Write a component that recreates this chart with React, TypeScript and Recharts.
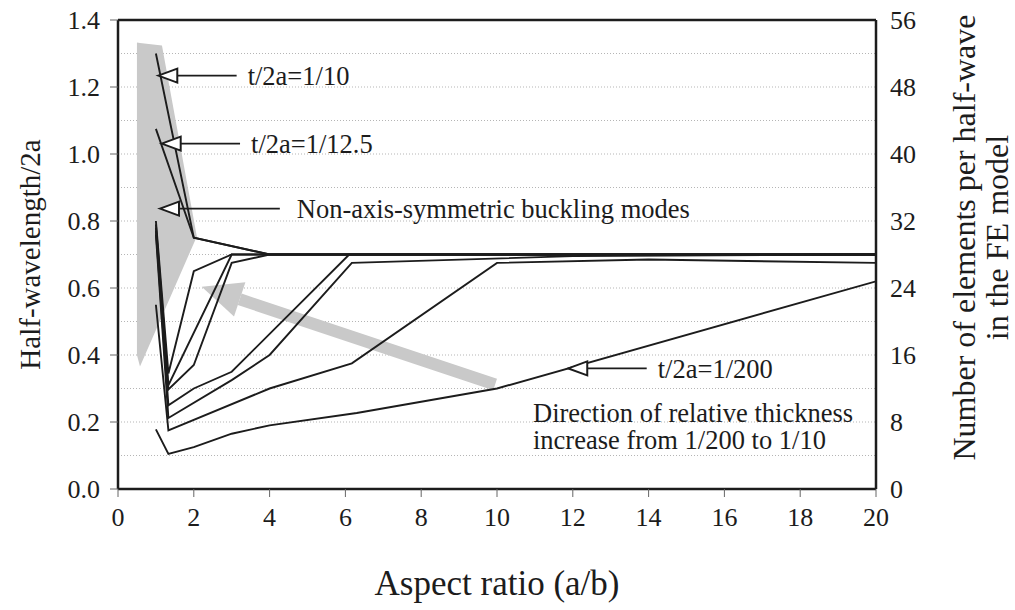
import React from 'react';
import {
  ComposedChart,
  Line,
  Area,
  XAxis,
  YAxis,
  CartesianGrid,
  ReferenceLine,
  ReferenceDot,
} from 'recharts';

const FONT = 'Liberation Serif';
const INK = '#1c1c1c';
const SHADE = '#c9c9c9';

const X_TICKS = [0, 2, 4, 6, 8, 10, 12, 14, 16, 18, 20];
const Y_TICKS = [0, 0.2, 0.4, 0.6, 0.8, 1.0, 1.2, 1.4];
const Y_MINOR = [0.1, 0.2, 0.3, 0.4, 0.5, 0.6, 0.7, 0.8, 0.9, 1.0, 1.1, 1.2, 1.3];
const FE_TICKS = [0, 8, 16, 24, 32, 40, 48, 56];

// half-wavelength/2a against aspect ratio, one curve per relative thickness t/2a
const T10 = [[1, 1.3], [2, 0.75], [4, 0.7], [20, 0.7]];
const T12_5 = [[1, 1.075], [2, 0.75], [4, 0.7], [20, 0.7]];
const T3 = [[1, 0.8], [1.33, 0.345], [2, 0.65], [3, 0.7], [20, 0.7]];
const T4 = [[1, 0.79], [1.33, 0.31], [3, 0.7], [20, 0.7]];
const T5 = [[1, 0.78], [1.33, 0.297], [2, 0.37], [3, 0.675], [4, 0.7], [20, 0.7]];
const T6 = [[1, 0.77], [1.33, 0.25], [2, 0.3], [3, 0.35], [6.1, 0.7], [20, 0.7]];
const T7 = [[1, 0.76], [1.33, 0.212], [3, 0.325], [4, 0.4], [6.17, 0.675], [12, 0.695], [20, 0.7]];
const T8 = [[1, 0.55], [1.33, 0.175], [4, 0.3], [6.17, 0.375], [10, 0.675], [14, 0.685], [20, 0.675]];
const T200 = [[1, 0.178], [1.33, 0.105], [2, 0.125], [3, 0.165], [4, 0.19], [6.3, 0.227], [10, 0.3], [20, 0.62]];

const CURVES = [T10, T12_5, T3, T4, T5, T6, T7, T8, T200];

// grey band marking the non-axis-symmetric modes: [x, lower, upper]
const MODE_BAND = [[0.5, 0.4, 1.333], [0.58, 0.366, 1.331], [1.16, 0.516, 1.324], [2.08, 0.754, 0.754]];

// pointer labels: [tip x, tip y, tail x, text]
const POINTERS: [number, number, number, string][] = [
  [1.063, 1.234, 3.13, 't/2a=1/10'],
  [1.153, 1.031, 3.22, 't/2a=1/12.5'],
  [1.108, 0.837, 4.27, 'Non-axis-symmetric buckling modes'],
  [11.88, 0.36, 13.95, 't/2a=1/200'],
];

// thickness trend arrow, tail then head
const TREND = [
  { x: 9.95, y: 0.312 },
  { x: 2.21, y: 0.604 },
];
const TREND_NOTE = ['Direction of relative thickness', 'increase from 1/200 to 1/10'];

const toPts = (rows: number[][]) => rows.map(([x, y]) => ({ x, y }));
const bandData = MODE_BAND.map(([x, lo, hi]) => ({ x, band: [lo, hi] }));
// keeps the element-count axis tied to a (blank) series so its scale is built
const feData = FE_TICKS.map((v) => ({ x: 20, y: v }));

const serif = { fontFamily: FONT };

const pointerShape = (text: string, gap: number) => (p: any) => {
  const { x1, y1, x2 } = p;
  return (
    <g>
      <line x1={x1 + 18} y1={y1} x2={x2} y2={y1} stroke={INK} strokeWidth={1.6} />
      <polygon
        points={`${x1},${y1} ${x1 + 19},${y1 - 7} ${x1 + 19},${y1 + 7}`}
        fill="#fff"
        stroke={INK}
        strokeWidth={2}
      />
      <text x={x2 + gap} y={y1} dy="0.35em" style={{ ...serif, fontSize: 26.5 }} fill={INK}>
        {text}
      </text>
    </g>
  );
};

const trendShape = (p: any) => {
  const { x1, y1, x2, y2 } = p;
  const len = Math.hypot(x1 - x2, y1 - y2) || 1;
  const ux = (x1 - x2) / len;
  const uy = (y1 - y2) / len;
  const bx = x2 + 40 * ux;
  const by = y2 + 40 * uy;
  return (
    <g>
      <line x1={bx} y1={by} x2={x1} y2={y1} stroke={SHADE} strokeWidth={12} />
      <polygon
        points={`${x2},${y2} ${bx - 18 * uy},${by + 18 * ux} ${bx + 18 * uy},${by - 18 * ux}`}
        fill={SHADE}
      />
    </g>
  );
};

const noteShape = (p: any) => (
  <text x={p.cx} y={p.cy} style={{ ...serif, fontSize: 26.5 }} fill={INK}>
    {TREND_NOTE.map((s, i) => (
      <tspan key={i} x={p.cx} dy={i === 0 ? '0.35em' : 27}>
        {s}
      </tspan>
    ))}
  </text>
);

const tickStyle = { fontSize: 26, fill: INK, style: serif };

export default function App() {
  return (
    <div
      style={{
        position: 'absolute',
        left: 0,
        top: 0,
        width: 1015,
        height: 610,
        background: '#fff',
        fontFamily: FONT,
      }}
    >
      <ComposedChart
        width={1015}
        height={610}
        margin={{ top: 20, right: 0, bottom: 0, left: 0 }}
        style={serif}
      >
        <CartesianGrid
          vertical={false}
          horizontalValues={Y_MINOR}
          stroke="#b5b5b5"
          strokeDasharray="1 2"
        />
        <XAxis
          type="number"
          dataKey="x"
          domain={[0, 20]}
          ticks={X_TICKS}
          allowDataOverflow
          height={121}
          tickSize={8}
          tickMargin={11}
          axisLine={{ stroke: INK, strokeWidth: 2.5 }}
          tickLine={{ stroke: '#666' }}
          tick={tickStyle}
          label={{
            value: 'Aspect ratio (a/b)',
            position: 'insideBottom',
            offset: 15,
            style: { ...serif, fontSize: 35, fill: INK },
          }}
        />
        <YAxis
          type="number"
          domain={[0, 1.4]}
          ticks={Y_TICKS}
          allowDataOverflow
          width={118}
          tickSize={8}
          tickMargin={10}
          tickFormatter={(v: number) => v.toFixed(1)}
          axisLine={{ stroke: INK, strokeWidth: 2.5 }}
          tickLine={{ stroke: '#666' }}
          tick={tickStyle}
          label={{
            value: 'Half-wavelength/2a',
            angle: -90,
            position: 'insideLeft',
            offset: 30,
            style: { ...serif, fontSize: 29, fill: INK, textAnchor: 'middle' },
          }}
        />
        <YAxis
          yAxisId="fe"
          orientation="right"
          type="number"
          domain={[0, 56]}
          ticks={FE_TICKS}
          allowDataOverflow
          width={139}
          tickSize={0}
          tickMargin={14}
          tickLine={false}
          axisLine={{ stroke: INK, strokeWidth: 2.5 }}
          tick={{ ...tickStyle, textAnchor: 'start' }}
          label={(props: any) => {
            const vb = props.viewBox;
            const cy = vb.y + vb.height / 2 - 17;
            const cx = vb.x + 99;
            return (
              <text
                transform={`rotate(-90 ${cx} ${cy})`}
                x={cx}
                y={cy}
                textAnchor="middle"
                style={{ ...serif, fontSize: 32 }}
                fill={INK}
              >
                <tspan x={cx} dy="0">Number of  elements per half-wave</tspan>
                <tspan x={cx} dy={33}>in the FE model</tspan>
              </text>
            );
          }}
        />
        <ReferenceLine y={1.4} stroke={INK} strokeWidth={2.5} />
        <Line
          yAxisId="fe"
          data={feData}
          dataKey="y"
          stroke="none"
          dot={false}
          activeDot={false}
          isAnimationActive={false}
        />
        <Area
          data={bandData}
          dataKey="band"
          type="linear"
          stroke="none"
          fill={SHADE}
          fillOpacity={1}
          isAnimationActive={false}
        />
        <ReferenceLine segment={TREND} shape={trendShape} />
        {CURVES.map((c, i) => (
          <Line
            key={i}
            data={toPts(c)}
            dataKey="y"
            type="linear"
            stroke={INK}
            strokeWidth={1.9}
            dot={false}
            activeDot={false}
            isAnimationActive={false}
          />
        ))}
        {POINTERS.map(([tx, ty, ex, text], i) => (
          <ReferenceLine
            key={text}
            segment={[{ x: tx, y: ty }, { x: ex, y: ty }]}
            shape={pointerShape(text, i === 2 ? 17 : 11)}
          />
        ))}
        <ReferenceDot x={10.95} y={0.228} r={0} shape={noteShape} />
      </ComposedChart>
    </div>
  );
}
